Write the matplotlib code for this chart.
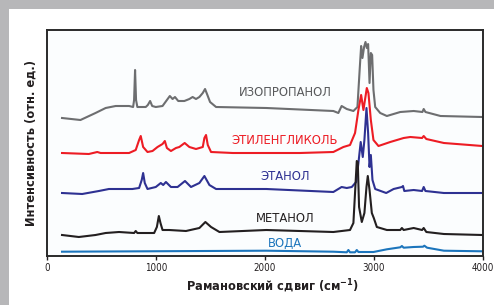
import matplotlib
matplotlib.use('Agg')
from matplotlib import pyplot as plt
from matplotlib.patches import Rectangle

# Raman shift (cm-1) and relative intensity (stacked, arbitrary units)
iso_x = [138, 307, 445, 538, 630, 753, 790, 799, 808, 817, 829, 906, 925, 946, 965, 998, 1060, 1100,
         1127, 1152, 1174, 1204, 1260, 1306, 1336, 1367, 1398, 1429, 1450, 1468, 1496, 1551, 2012,
         2627, 2673, 2703, 2750, 2811, 2848, 2870, 2882, 2894, 2909, 2922, 2934, 2946, 2959, 2971,
         2983, 2995, 3011, 3057, 3118, 3241, 3364, 3444, 3456, 3472, 3610, 3994]
iso_y = [138, 136, 143, 148, 150, 150, 149, 156, 186, 156, 149, 149, 151, 155, 150, 149, 150, 156,
         160, 157, 159, 155, 155, 157, 159, 157, 159, 163, 167, 162, 154, 149, 148,
         145, 143, 150, 147, 145, 149, 189, 210, 198, 209, 214, 208, 212, 173, 203,
         201, 166, 149, 143, 140, 144, 145, 144, 147, 144, 140, 139]

eg_x = [138, 384, 461, 492, 753, 814, 845, 860, 882, 922, 968, 1014, 1060, 1081, 1100, 1137, 1183,
        1214, 1263, 1306, 1367, 1429, 1444, 1459, 1475, 1505, 1705, 2320, 2627, 2719, 2780, 2826,
        2857, 2882, 2903, 2934, 2949, 2971, 2995, 3041, 3149, 3272, 3333, 3441, 3456, 3480, 3641, 3994]
eg_y = [103, 102, 104, 103, 103, 106, 116, 120, 109, 104, 105, 109, 112, 115, 108, 105, 108,
        109, 113, 109, 107, 109, 118, 121, 111, 104, 103, 103, 104, 109, 111, 123,
        146, 161, 146, 168, 163, 136, 116, 110, 114, 118, 119, 118, 120, 117, 113, 110]

eth_x = [138, 323, 476, 568, 783, 845, 869, 882, 897, 922, 998, 1044, 1066, 1091, 1137, 1198, 1266,
         1321, 1398, 1444, 1490, 1551, 2012, 2627, 2703, 2750, 2796, 2836, 2857, 2878, 2897, 2912,
         2931, 2946, 2959, 2971, 2986, 3011, 3112, 3180, 3256, 3266, 3278, 3364, 3441, 3456, 3472,
         3641, 3994]
eth_y = [63, 62, 65, 67, 67, 68, 76, 83, 73, 67, 69, 73, 71, 74, 69, 69, 75,
         69, 73, 80, 71, 67, 67, 64, 69, 68, 69, 74, 93, 114, 99, 116,
         148, 123, 89, 101, 76, 67, 63, 67, 69, 70, 65, 66, 65, 69, 65,
         63, 63]

meth_x = [138, 292, 445, 538, 661, 799, 814, 829, 983, 1008, 1026, 1041, 1060, 1121, 1275, 1398,
          1453, 1505, 1582, 2012, 2627, 2780, 2811, 2829, 2842, 2851, 2863, 2888, 2912, 2931, 2943,
          2959, 2980, 2998, 3026, 3118, 3241, 3256, 3272, 3364, 3441, 3456, 3480, 3641, 3994]
meth_y = [21, 19, 21, 23, 24, 23, 25, 23, 23, 29, 40, 33, 26, 26, 25, 28,
          34, 29, 24, 26, 24, 26, 33, 69, 95, 94, 49, 34, 43, 69, 80,
          66, 43, 38, 29, 26, 26, 28, 26, 28, 26, 28, 24, 22, 21]

water_x = [138, 2012, 2627, 2750, 2765, 2780, 2826, 2842, 2857, 2995, 3118, 3241, 3256, 3272, 3364,
           3450, 3462, 3487, 3641, 3994]
water_y = [4.3, 5.3, 4.3, 3.7, 6, 3.7, 3.7, 6, 4, 4, 6.7, 8.7, 10, 8.3, 9,
           9.3, 10.3, 8.3, 5.3, 4.7]

names = ['ИЗОПРОПАНОЛ', 'ЭТИЛЕНГЛИКОЛЬ', 'ЭТАНОЛ', 'МЕТАНОЛ', 'ВОДА']
label_y = [163, 115, 79, 37, 13]
line_colors = ['#6d6e70', '#ed1c24', '#2e3192', '#231f20', '#1c75bc']
text_colors = ['#58595b', '#ed1c24', '#2e3192', '#231f20', '#1c75bc']
xticks = [0, 1000, 2000, 3000, 4000]

narrow = dict(family='DejaVu Sans', fontstretch='condensed')

fig = plt.figure(figsize=(4.94, 3.05), dpi=100)
fig.patch.set_facecolor('white')
# grey frame on the top and left edges
fig.add_artist(Rectangle((0, 296 / 305), 1, 9 / 305, transform=fig.transFigure, color='#b7b7b9', lw=0))
fig.add_artist(Rectangle((0, 0), 9 / 494, 1, transform=fig.transFigure, color='#b7b7b9', lw=0))

ax = fig.add_axes([47 / 494, 49 / 305, 436 / 494, 226 / 305])
ax.set_facecolor('#fbfdfe')

series = [(iso_x, iso_y), (eg_x, eg_y), (eth_x, eth_y), (meth_x, meth_y), (water_x, water_y)]
for (xs, ys), c in zip(series, line_colors):
    ax.plot(xs, ys, color=c, lw=1.5, solid_joinstyle='round')

for name, ly, c in zip(names, label_y, text_colors):
    ax.text(2182, ly, name, color=c, ha='center', va='center', fontsize=9.3, **narrow)

ax.set_xlim(0, 4000)
ax.set_ylim(0, 226)
ax.set_xticks(xticks)
ax.set_xticklabels([str(t) for t in xticks], fontsize=7, color='#231f20', **narrow)
ax.set_yticks([])
ax.tick_params(axis='x', direction='out', length=3, width=1, pad=2, color='#231f20')
for s in ax.spines.values():
    s.set_linewidth(1.4)
    s.set_color('#2a2a2a')

ax.set_xlabel('Рамановский сдвиг (см$^{\\mathregular{-1}}$)', fontsize=9.2,
              fontweight='bold', color='#231f20', **narrow)
ax.xaxis.set_label_coords(0.516, -0.095)
ax.set_ylabel('Интенсивность (отн. ед.)', fontsize=9.2, fontweight='bold',
              color='#231f20', **narrow)
ax.yaxis.set_label_coords(-0.022, 0.5)

fig.savefig('out.png', dpi=100)
